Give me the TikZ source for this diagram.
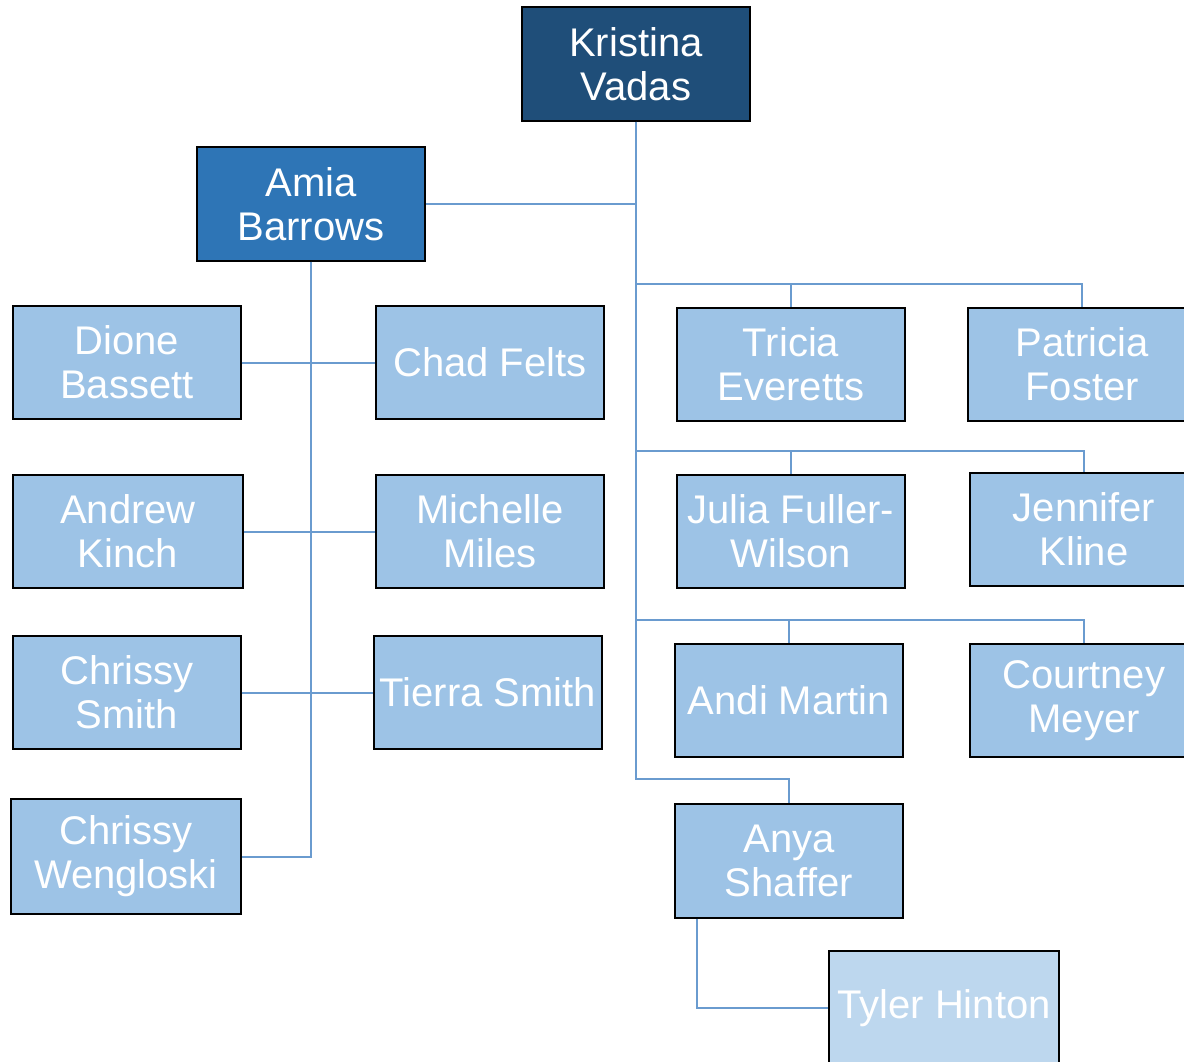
\documentclass[tikz,border=0pt]{standalone}
\usepackage{fontspec}
\setmainfont{Liberation Sans}
\usepackage{tikz}
\usepackage{xcolor}
\definecolor{chiefblue}{HTML}{1F4E79}
\definecolor{leadblue}{HTML}{2E75B6}
\definecolor{staffblue}{HTML}{9DC3E6}
\definecolor{internblue}{HTML}{BDD7EE}
\definecolor{wireblue}{HTML}{6A9BCF}

\begin{document}
\begin{tikzpicture}[x=1pt,y=-1pt,
    person/.style={draw=black,line width=1.4pt,fill=staffblue,text=white,align=center,
        minimum width=228pt,minimum height=113pt,inner sep=0pt,
        font=\fontsize{40}{44}\selectfont},
    chief/.style={person,fill=chiefblue,minimum height=114pt},
    lead/.style={person,fill=leadblue,minimum height=114pt},
    intern/.style={person,fill=internblue,minimum width=230pt,minimum height=114pt},
    wire/.style={draw=wireblue,line width=2pt}]
    \clip (0,0) rectangle (1184,1062);
            \node[chief] (kristina) at (636,64) {Kristina\\Vadas};
            \node[lead] (amia) at (311,204) {Amia\\Barrows};
            % left group
            \node[person] (dione) at (127,362.5) {Dione\\Bassett};
            \node[person] (chad) at (490,362.5) {Chad Felts};
            \node[person,minimum width=230pt] (andrew) at (128,531.5) {Andrew\\Kinch};
            \node[person] (michelle) at (490,531.5) {Michelle\\Miles};
            \node[person] (chrissys) at (127,692.5) {Chrissy\\Smith};
            \node[person] (tierra) at (488,692.5) {Tierra Smith};
            \node[person,minimum width=230pt,minimum height=115pt] (wengloski) at (126,856.5) {Chrissy\\Wengloski};
            % right group
            \node[person] (tricia) at (791,364.5) {Tricia\\Everetts};
            \node[person] (patricia) at (1082,364.5) {Patricia\\Foster};
            \node[person] (julia) at (791,531.5) {Julia Fuller-\\Wilson};
            \node[person] (jennifer) at (1084,529.5) {Jennifer\\Kline};
            \node[person] (andi) at (789,700.5) {Andi Martin};
            \node[person] (courtney) at (1084,700.5) {Courtney\\Meyer};
            \node[person,minimum height=114pt] (anya) at (789,861) {Anya\\Shaffer};
            \node[intern] (tyler) at (944,1008) {Tyler Hinton};

            \coordinate (bar1) at ([yshift=23pt]tricia.north);
            \coordinate (bar2) at ([yshift=23pt]julia.north);
            \coordinate (bar3) at ([yshift=23pt]andi.north);

            \draw[wire] (kristina.south) |- (amia.east);
            \draw[wire] (kristina.south) |- ([yshift=24pt]anya.north) -- (anya.north);
            \draw[wire] (kristina.south |- bar1) -| (patricia.north);
            \draw[wire] (bar1) -- (tricia.north);
            \draw[wire] (kristina.south |- bar2) -| (jennifer.north);
            \draw[wire] (bar2) -- (julia.north);
            \draw[wire] (kristina.south |- bar3) -| (courtney.north);
            \draw[wire] (bar3) -- (andi.north);

            \draw[wire] (amia.south) |- (wengloski.east);
            \draw[wire] (dione.east) -- (chad.west);
            \draw[wire] (andrew.east) -- (michelle.west);
            \draw[wire] (chrissys.east) -- (tierra.west);

            \draw[wire] ([xshift=-92pt]anya.south) |- (tyler.west);
        \end{tikzpicture}
\end{document}
